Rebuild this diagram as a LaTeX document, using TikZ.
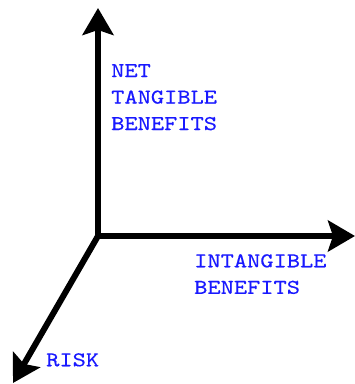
\documentclass[tikz,border=0pt]{standalone}
\usepackage{fontspec}
\newfontfamily\axisfont[FakeStretch=1.2, FakeBold=0.4]{lmmono10-regular.otf}
\usetikzlibrary{arrows.meta}
\definecolor{labelblue}{RGB}{25,25,255}
\tikzset{
  axis/.style={line width=6pt, -{Stealth[length=27pt, width=31pt, inset=5pt]}},
  axislabel/.style={text=labelblue,
    font=\axisfont\fontsize{21}{26.5}\selectfont,
    inner sep=0pt, align=left, anchor=north west}
}
\begin{document}
\begin{tikzpicture}[x=1pt, y=1pt]
  \useasboundingbox (0,0) rectangle (355,384);
  \coordinate (O) at (98,148);
  \coordinate (Ob) at (98,145);
  \coordinate (Ol) at (95,148);
  \coordinate (up) at (98,376);
  \coordinate (right) at (355,148);
  \coordinate (down) at (13,1);
  \draw[axis] (Ob) -- (up);
  \draw[axis] (Ol) -- (right);
  \draw[axis] (O) -- (down);
  \node[axislabel] (ntb) at (111,320) {NET\\TANGIBLE\\BENEFITS};
  \node[axislabel] (ib) at (194,130) {INTANGIBLE\\BENEFITS};
  \node[axislabel] (risk) at (46,31) {RISK};
\end{tikzpicture}
\end{document}
